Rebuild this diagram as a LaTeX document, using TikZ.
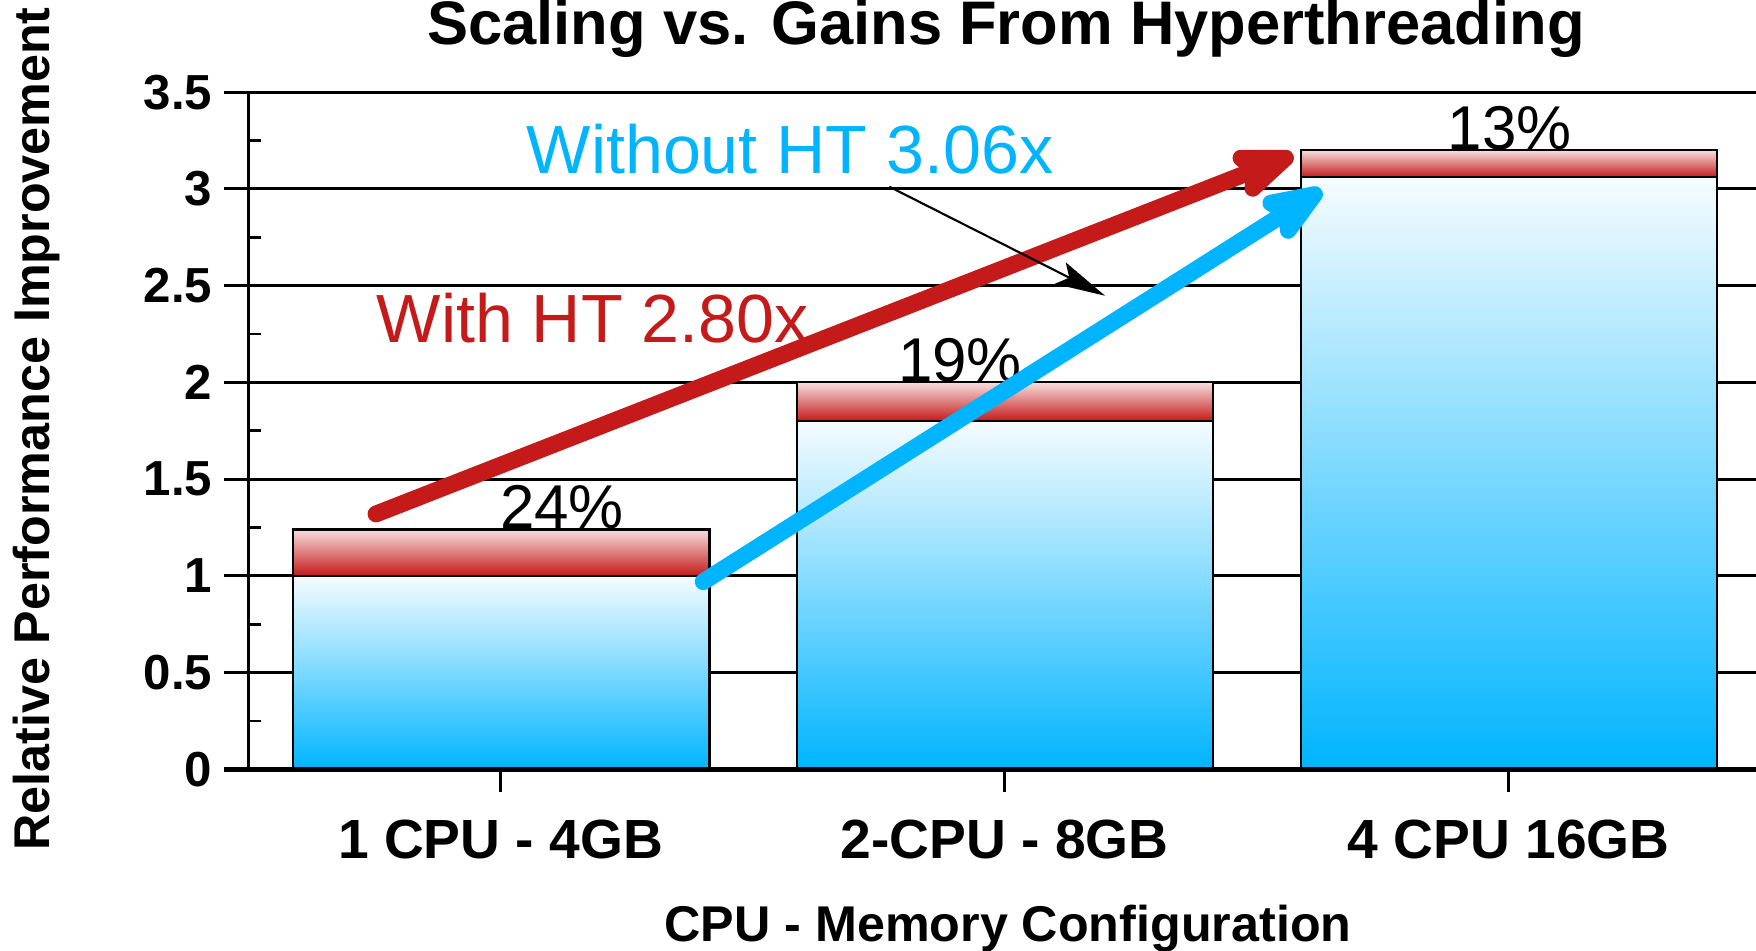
\documentclass[tikz,border=0pt]{standalone}
\usepackage{fontspec}
\setmainfont{Liberation Sans}
\usetikzlibrary{arrows.meta}

\definecolor{htcyan}{RGB}{0,180,255}
\definecolor{htred}{RGB}{197,26,26}
\definecolor{cyanlight}{RGB}{245,252,255}
\definecolor{redlight}{RGB}{247,222,222}

\begin{document}
\begin{tikzpicture}[
    gridline/.style={line width=0.8pt},
    bluebar/.style={draw=black, line width=0.6pt, top color=cyanlight, bottom color=htcyan},
    redbar/.style={draw=black, line width=0.6pt, top color=redlight, bottom color=htred},
    ticklabel/.style={anchor=east, inner sep=0pt, font=\fontsize{14}{16}\selectfont\bfseries},
    catlabel/.style={anchor=base, inner sep=0pt, font=\fontsize{15.7}{18}\selectfont\bfseries},
    axistitle/.style={anchor=base, inner sep=0pt, font=\fontsize{14.3}{17}\selectfont\bfseries},
    pctlabel/.style={anchor=base, inner sep=0pt, font=\fontsize{17.6}{20}\selectfont},
    htlabel/.style={anchor=base west, inner sep=0pt, font=\fontsize{19.4}{22}\selectfont},
    fatarrow/.style={line width=4.8pt, line cap=round, -{Stealth[length=8mm, width=6mm, inset=1.4mm, round]}},
]
    \useasboundingbox (0,0) rectangle (17.56,9.50);

    % Titles
    \node[anchor=base, inner sep=0pt, font=\fontsize{17.5}{20}\selectfont\bfseries] (title) at (10.06,9.05) {Scaling vs. Gains From Hyperthreading};
    \node[axistitle, rotate=90] (ytitle) at (0.50,5.21) {Relative Performance Improvement};
    \node[axistitle] (xtitle) at (10.08,0.09) {CPU - Memory Configuration};

    \begin{scope}[shift={(2.486cm,1.806cm)}, x=5.04cm, y=1.935cm]
        % Grid and ticks
        \foreach \v in {0.5,1.0,...,3.5}
            \draw[gridline] (-0.049,\v) -- (3,\v);
        \foreach \v in {0.25,0.75,...,3.25}
            \draw[gridline] (0,\v) -- ++(0.126cm,0);
        \foreach \v/\t [count=\i] in {0/0,0.5/0.5,1/1,1.5/1.5,2/2,2.5/2.5,3/3,3.5/3.5}
            \node[ticklabel] (tick\i) at (-0.0706,\v) {\t};

        % Bars
        \shade[bluebar] (0.0877,0) rectangle (0.9145,1.00);
        \shade[redbar] (0.0877,1.00) rectangle (0.9145,1.24);
        \shade[bluebar] (1.0877,0) rectangle (1.9135,1.80);
        \shade[redbar] (1.0877,1.80) rectangle (1.9135,2.00);
        \shade[bluebar] (2.0877,0) rectangle (2.9135,3.06);
        \shade[redbar] (2.0877,3.06) rectangle (2.9135,3.20);

        % Axes
        \draw[line width=1pt] (0,0) -- (0,3.5);
        \draw[line width=1.2pt] (-0.049,0) -- (3,0);
        \draw[gridline] (0.5,0) -- ++(0,-0.23cm);
        \draw[gridline] (1.5,0) -- ++(0,-0.23cm);
        \draw[gridline] (2.5,0) -- ++(0,-0.23cm);

        % Labels
        \node[catlabel] (cat1) at (0.5,-0.458) {1 CPU - 4GB};
        \node[catlabel] (cat2) at (1.5,-0.458) {2-CPU - 8GB};
        \node[catlabel] (cat3) at (2.5,-0.458) {4 CPU 16GB};
        \node[pctlabel] (pct1) at (0.622,1.245) {24\%};
        \node[pctlabel] (pct2) at (1.4115,2.005) {19\%};
        \node[pctlabel] (pct3) at (2.5024,3.205) {13\%};
        \node[htlabel, text=htcyan] (noht) at (0.5504,3.082) {Without HT 3.06x};
        \node[htlabel, text=htred] (withht) at (0.2528,2.2036) {With HT 2.80x};

        % Arrows
        \coordinate (redfrom) at (0.2528,1.32);
        \coordinate (redto) at (2.0728,3.175);
        \coordinate (cyanfrom) at (0.902,0.97);
        \coordinate (cyanto) at (2.129,2.994);
        \coordinate (notefrom) at (1.2712,3.0114);
        \coordinate (noteto) at (1.6992,2.448);
        \draw[fatarrow, htred] (redfrom) -- (redto);
        \draw[fatarrow, htcyan] (cyanfrom) -- (cyanto);
        \draw[line width=0.6pt, -{Stealth[length=5mm, width=2.4mm, inset=1mm]}] (notefrom) -- (noteto);
    \end{scope}
\end{tikzpicture}
\end{document}
